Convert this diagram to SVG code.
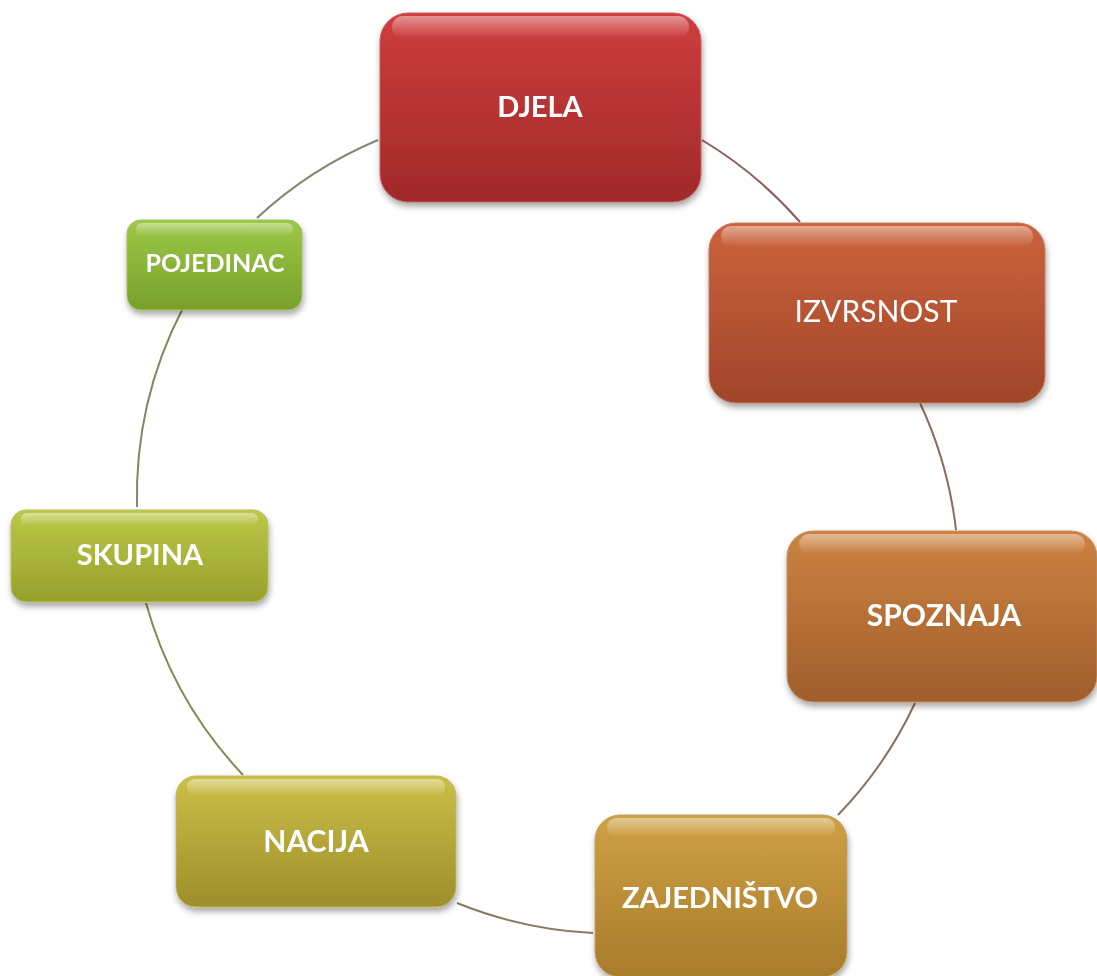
<svg xmlns="http://www.w3.org/2000/svg" width="1097" height="976" viewBox="0 0 1097 976">
<style>
.lbl{font-family:Lato,"Liberation Sans",sans-serif;font-weight:bold;fill:#fff;text-anchor:middle}
.reg{font-weight:normal}
.con{fill:none;stroke-width:2}
.hl{fill:url(#hl)}
</style>
<defs>
<filter id="sh" x="-10%" y="-10%" width="120%" height="130%">
<feDropShadow dx="1" dy="4" stdDeviation="3" flood-color="#000" flood-opacity="0.35"/>
</filter>
<linearGradient id="hl" x1="0" y1="0" x2="0" y2="1">
<stop offset="0" stop-color="#fff" stop-opacity="0.45"/>
<stop offset="1" stop-color="#fff" stop-opacity="0"/>
</linearGradient>
<linearGradient id="g1" x1="0" y1="0" x2="0" y2="1"><stop offset="0" stop-color="#cf3d3d"/><stop offset="1" stop-color="#a02a2a"/></linearGradient>
<linearGradient id="g2" x1="0" y1="0" x2="0" y2="1"><stop offset="0" stop-color="#cc633d"/><stop offset="1" stop-color="#a0452a"/></linearGradient>
<linearGradient id="g3" x1="0" y1="0" x2="0" y2="1"><stop offset="0" stop-color="#cc8241"/><stop offset="1" stop-color="#a05e2c"/></linearGradient>
<linearGradient id="g4" x1="0" y1="0" x2="0" y2="1"><stop offset="0" stop-color="#cfa044"/><stop offset="1" stop-color="#a87c2c"/></linearGradient>
<linearGradient id="g5" x1="0" y1="0" x2="0" y2="1"><stop offset="0" stop-color="#cbbf47"/><stop offset="1" stop-color="#9e8e2c"/></linearGradient>
<linearGradient id="g6" x1="0" y1="0" x2="0" y2="1"><stop offset="0" stop-color="#bcc847"/><stop offset="1" stop-color="#97a02c"/></linearGradient>
<linearGradient id="g7" x1="0" y1="0" x2="0" y2="1"><stop offset="0" stop-color="#9dc847"/><stop offset="1" stop-color="#77a02c"/></linearGradient>
</defs>
<g id="connectors">
<path class="con" stroke="#8f5c5c" d="M702 140 A410 410 0 0 1 800 222"/>
<path class="con" stroke="#8f6a62" d="M920 403 A410 410 0 0 1 956 530"/>
<path class="con" stroke="#8a7060" d="M915 703 A410 410 0 0 1 838 815"/>
<path class="con" stroke="#8a7a5c" d="M593 933 A420 420 0 0 1 457 903"/>
<path class="con" stroke="#8a8656" d="M243 775 A410 410 0 0 1 146 603"/>
<path class="con" stroke="#7e8a5a" d="M137 507 A410 410 0 0 1 183 308"/>
<path class="con" stroke="#7f8a6e" d="M257 218 A410 410 0 0 1 378 140"/>
</g>
<g id="djela" filter="url(#sh)">
<rect x="380" y="13" width="321" height="189" rx="28" fill="url(#g1)" stroke="#c46060" stroke-width="1"/>
<rect x="392" y="16" width="297" height="22" rx="11" class="hl"/>
<text class="lbl" x="540" y="117" font-size="29">DJELA</text>
</g>
<g id="izvrsnost" filter="url(#sh)">
<rect x="709" y="223" width="336" height="180" rx="27" fill="url(#g2)" stroke="#c47a60" stroke-width="1"/>
<rect x="721" y="226" width="312" height="21" rx="10" class="hl"/>
<text class="lbl reg" x="876" y="322" font-size="30">IZVRSNOST</text>
</g>
<g id="spoznaja" filter="url(#sh)">
<rect x="787" y="531" width="310" height="171" rx="26" fill="url(#g3)" stroke="#c49060" stroke-width="1"/>
<rect x="799" y="534" width="286" height="20" rx="10" class="hl"/>
<text class="lbl" x="944" y="626" font-size="30">SPOZNAJA</text>
</g>
<g id="zajednistvo" filter="url(#sh)">
<rect x="595" y="815" width="252" height="162" rx="25" fill="url(#g4)" stroke="#c4a060" stroke-width="1"/>
<rect x="607" y="818" width="228" height="19" rx="9" class="hl"/>
<text class="lbl" x="720" y="908" font-size="29">ZAJEDNIŠTVO</text>
</g>
<g id="nacija" filter="url(#sh)">
<rect x="176" y="776" width="280" height="131" rx="20" fill="url(#g5)" stroke="#c4b860" stroke-width="1"/>
<rect x="187" y="779" width="258" height="17" rx="8" class="hl"/>
<text class="lbl" x="316" y="852" font-size="30">NACIJA</text>
</g>
<g id="skupina" filter="url(#sh)">
<rect x="11" y="510" width="257" height="92" rx="15" fill="url(#g6)" stroke="#b4c060" stroke-width="1"/>
<rect x="21" y="513" width="237" height="13" rx="6" class="hl"/>
<text class="lbl" x="140" y="565" font-size="29">SKUPINA</text>
</g>
<g id="pojedinac" filter="url(#sh)">
<rect x="127" y="220" width="175" height="90" rx="14" fill="url(#g7)" stroke="#a0c060" stroke-width="1"/>
<rect x="136" y="223" width="157" height="13" rx="6" class="hl"/>
<text class="lbl" x="215" y="272" font-size="25">POJEDINAC</text>
</g>
</svg>
